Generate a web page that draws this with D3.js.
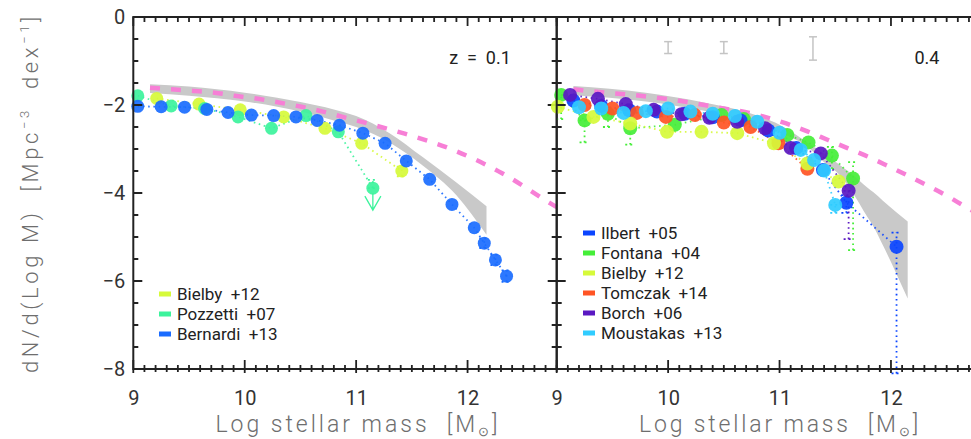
<!DOCTYPE html>
<html><head><meta charset="utf-8">
<script src="https://cdn.jsdelivr.net/npm/d3@7"></script>
<style>
body{margin:0;background:#fff;}
svg text{font-family:Roboto,"DejaVu Sans",sans-serif;}
</style></head><body>
<svg id="c" width="971" height="439"></svg>
<script>
// ---------- data ----------
const xTicks = [9,10,11,12];
const yTicks = [0,-2,-4,-6,-8];
const panelLabels = ["z  =  0.1", "0.4"];
const xTitle = "Log stellar mass";

// left panel (z = 0.1)
const bielbyLX = [9.21, 9.59, 9.96, 10.35, 10.72, 11.05, 11.41];
const bielbyLY = [-1.85, -1.98, -2.11, -2.27, -2.53, -2.87, -3.50];
const pozzettiX = [9.04, 9.34, 9.64, 9.94, 10.24, 10.55, 10.84, 11.15];
const pozzettiY = [-1.79, -2.02, -2.08, -2.27, -2.53, -2.24, -2.61, -3.89];
const bernardiX = [9.04, 9.25, 9.46, 9.66, 9.85, 10.06, 10.26, 10.46, 10.65, 10.85, 11.06, 11.26, 11.45, 11.66, 11.86, 12.06, 12.15, 12.25, 12.35];
const bernardiY = [-2.03, -2.04, -2.05, -2.10, -2.17, -2.23, -2.24, -2.27, -2.35, -2.46, -2.64, -2.87, -3.27, -3.69, -4.26, -4.79, -5.14, -5.52, -5.89];
const pinkLX = [9.15, 9.37, 9.54, 9.73, 9.91, 10.12, 10.32, 10.51, 10.70, 10.88, 11.06, 11.42, 11.87, 12.31, 12.74, 12.80];
const pinkLY = [-1.61, -1.65, -1.68, -1.72, -1.79, -1.86, -1.95, -2.04, -2.15, -2.27, -2.39, -2.64, -3.02, -3.55, -4.23, -4.32];
const bandLX = [9.15, 9.5, 10.0, 10.5, 10.8, 11.0, 11.3, 11.6, 11.9, 12.17];
const bandLHi = [-1.53, -1.58, -1.72, -1.93, -2.10, -2.25, -2.64, -3.19, -3.76, -4.30];
const bandLLo = [-1.73, -1.79, -1.92, -2.15, -2.35, -2.50, -2.85, -3.38, -4.05, -4.95];

// right panel (z = 0.4)
const ilbertX = [9.15, 9.4, 9.65, 9.9, 10.15, 10.4, 10.65, 10.9, 11.15, 11.39, 11.6, 12.05];
const ilbertY = [-1.90, -2.02, -2.12, -2.15, -2.20, -2.28, -2.35, -2.58, -2.98, -3.48, -4.22, -5.22];
const fontanaX = [9.04, 9.25, 9.46, 9.66, 10.06, 10.48, 10.68, 11.07, 11.26, 11.47, 11.66];
const fontanaY = [-1.77, -2.35, -2.20, -2.53, -2.45, -2.23, -2.32, -2.68, -2.85, -3.15, -3.67];
const bielbyRX = [9.01, 9.33, 9.66, 9.99, 10.30, 10.62, 10.95, 11.25, 11.53];
const bielbyRY = [-2.04, -2.27, -2.42, -2.61, -2.61, -2.64, -2.87, -3.33, -3.74];
const tomczakX = [9.25, 9.50, 9.72, 9.98, 10.24, 10.50, 10.74, 10.99, 11.25];
const tomczakY = [-2.00, -2.08, -2.18, -2.27, -2.23, -2.40, -2.50, -2.87, -3.45];
const borchX = [9.12, 9.37, 9.62, 9.87, 10.12, 10.37, 10.62, 10.87, 11.10, 11.37, 11.62];
const borchY = [-1.77, -1.86, -1.98, -2.11, -2.21, -2.29, -2.38, -2.53, -2.98, -3.10, -3.95];
const moustakasX = [9.2, 9.4, 9.6, 9.8, 10.0, 10.2, 10.4, 10.6, 10.8, 11.0, 11.19, 11.31, 11.40, 11.50];
const moustakasY = [-2.05, -2.08, -2.18, -2.14, -2.08, -2.15, -2.20, -2.25, -2.38, -2.63, -3.02, -3.25, -3.49, -4.27];
const pinkRX = [9.15, 9.21, 9.75, 10.14, 10.5, 10.71, 11.06, 11.25, 11.43, 11.61, 11.79, 11.96, 12.14, 12.32, 12.5, 12.68, 12.8];
const pinkRY = [-1.64, -1.66, -1.79, -1.92, -2.08, -2.17, -2.42, -2.60, -2.79, -2.98, -3.17, -3.37, -3.59, -3.82, -4.06, -4.33, -4.50];
const bandRX = [9.15, 9.8, 10.3, 10.75, 11.0, 11.25, 11.4, 11.55, 11.64, 11.79, 11.84, 11.93, 12.15];
const bandRHi = [-1.57, -1.72, -1.93, -2.20, -2.45, -2.85, -3.10, -3.38, -3.55, -3.88, -3.98, -4.18, -4.65];
const bandRLo = [-1.78, -1.92, -2.12, -2.37, -2.62, -2.95, -3.30, -3.62, -3.93, -4.55, -4.75, -5.20, -6.40];

// error bars [x, low, high]
const pozzettiErr = [[11.15, -3.89, -3.70]];
const bernardiErr = [[12.15, -5.25, -5.03], [12.25, -5.64, -5.40], [12.35, -6.02, -5.76]];
const bielbyLErr = [[11.41, -3.62, -3.40]];
const ilbertErr = [[12.05, -8.1, -4.90], [11.6, -4.45, -4.05]];
const fontanaErr = [[9.04, -2.32, -1.77], [9.25, -2.85, -2.35], [9.46, -2.50, -2.20], [9.66, -2.90, -2.53], [11.66, -5.30, -3.30], [11.47, -3.45, -2.95]];
const borchErr = [[11.62, -5.05, -3.95]];
const moustakasErr = [[11.50, -4.45, -4.27]];
const typicalErrX = [10.0, 10.5, 11.3];
const typicalErrLo = [-0.83, -0.83, -0.98];
const typicalErrHi = [-0.56, -0.56, -0.45];

// ---------- drawing ----------
const svg = d3.select("#c");
const yS = d3.scaleLinear().domain([-8, 0]).range([369, 17]);
const axisCol = "#222222";

const panels = [
  {
    x: d3.scaleLinear().domain([9, 12.8]).range([133.3, 556.7]),
    label: panelLabels[0], labelX: 480, r: 6.5,
    band: [bandLX, bandLHi, bandLLo], pink: [pinkLX, pinkLY],
    series: [
      {name: "Bielby  +12", X: bielbyLX, Y: bielbyLY, c: "#d6fa3a", err: bielbyLErr},
      {name: "Pozzetti  +07", X: pozzettiX, Y: pozzettiY, c: "#3cf39c", err: pozzettiErr, arrow: true},
      {name: "Bernardi  +13", X: bernardiX, Y: bernardiY, c: "#1a6cff", err: bernardiErr}
    ],
    legendOrder: [0, 1, 2], legX: 159, legY0: 294, showYLabels: true
  },
  {
    x: d3.scaleLinear().domain([9, 12.8]).range([556.7, 980.1]),
    label: panelLabels[1], labelX: 927, r: 7,
    band: [bandRX, bandRHi, bandRLo], pink: [pinkRX, pinkRY],
    series: [
      {name: "Fontana  +04", X: fontanaX, Y: fontanaY, c: "#45ee38", err: fontanaErr},
      {name: "Ilbert  +05", X: ilbertX, Y: ilbertY, c: "#0b45ff", err: ilbertErr},
      {name: "Tomczak  +14", X: tomczakX, Y: tomczakY, c: "#ff5424", err: []},
      {name: "Bielby  +12", X: bielbyRX, Y: bielbyRY, c: "#d6fa3a", err: []},
      {name: "Borch  +06", X: borchX, Y: borchY, c: "#5a18c2", err: borchErr},
      {name: "Moustakas  +13", X: moustakasX, Y: moustakasY, c: "#30ccff", err: moustakasErr}
    ],
    legendOrder: [1, 0, 3, 2, 4, 5], legX: 583, legY0: 233, showYLabels: false,
    typical: true
  }
];

panels.forEach(p => {
  const x = p.x;
  const g = svg.append("g");
  const band = p.band[0].map((v, i) => [v, p.band[1][i], p.band[2][i]]);
  g.append("path").datum(band)
    .attr("d", d3.area().x(d => x(d[0])).y0(d => yS(d[2])).y1(d => yS(d[1])).curve(d3.curveMonotoneX))
    .attr("fill", "#c9c9c9");
  const pd = p.pink[0].map((v, i) => [v, p.pink[1][i]]);
  g.append("path").datum(pd)
    .attr("d", d3.line().x(d => x(d[0])).y(d => yS(d[1])).curve(d3.curveMonotoneX))
    .attr("fill", "none").attr("stroke", "#f77fd6").attr("stroke-width", 4.5)
    .attr("stroke-dasharray", "10,11");
  if (p.typical) {
    const tg = g.append("g").attr("stroke", "#c4c4c4").attr("stroke-width", 1.5);
    typicalErrX.forEach((v, i) => {
      const gx = x(v), y1 = yS(typicalErrLo[i]), y2 = yS(typicalErrHi[i]);
      tg.append("line").attr("x1", gx).attr("x2", gx).attr("y1", y1).attr("y2", y2);
      tg.append("line").attr("x1", gx - 4).attr("x2", gx + 4).attr("y1", y1).attr("y2", y1);
      tg.append("line").attr("x1", gx - 4).attr("x2", gx + 4).attr("y1", y2).attr("y2", y2);
    });
  }
  p.series.forEach(s => {
    const d = s.X.map((v, i) => [v, s.Y[i]]);
    g.append("path").datum(d)
      .attr("d", d3.line().x(q => x(q[0])).y(q => yS(q[1])))
      .attr("fill", "none").attr("stroke", s.c).attr("stroke-width", 1.8)
      .attr("stroke-dasharray", "1.6,3.6").attr("opacity", 0.9);
    s.err.forEach(e => {
      const ex = x(e[0]);
      g.append("line").attr("x1", ex).attr("x2", ex).attr("y1", yS(e[1])).attr("y2", yS(e[2]))
        .attr("stroke", s.c).attr("stroke-width", 1.8).attr("stroke-dasharray", "1.6,3.6");
      [e[1], e[2]].forEach(v => {
        g.append("line").attr("x1", ex - 5).attr("x2", ex + 5).attr("y1", yS(v)).attr("y2", yS(v))
          .attr("stroke", s.c).attr("stroke-width", 1.8).attr("stroke-dasharray", "2,3");
      });
    });
  });
  p.series.forEach(s => {
    g.append("g").selectAll("circle").data(s.X.map((v, i) => [v, s.Y[i]])).join("circle")
      .attr("cx", d => x(d[0])).attr("cy", d => yS(d[1])).attr("r", p.r)
      .attr("fill", s.c).attr("fill-opacity", 0.92);
    if (s.arrow) {
      const last = s.X.length - 1;
      const ax = x(s.X[last]), ay = yS(s.Y[last]);
      const tip = yS(s.Y[last] - 0.5);
      g.append("path")
        .attr("d", `M${ax},${ay + 5}L${ax},${tip}M${ax - 8},${ay + 8}L${ax},${tip}L${ax + 8},${ay + 8}`)
        .attr("fill", "none").attr("stroke", s.c).attr("stroke-width", 1.3);
    }
  });

  const [x0, x1] = x.range();
  const yTop = yS(0), yBot = yS(-8);
  g.append("rect").attr("x", x0).attr("y", yTop).attr("width", x1 - x0).attr("height", yBot - yTop)
    .attr("fill", "none").attr("stroke", axisCol).attr("stroke-width", 2);

  const minorX = d3.range(0, 39).map(i => +(9 + i * 0.1).toFixed(1));
  const minorY = d3.range(0, 17).map(i => -8 + i * 0.5);
  const isMajX = v => Math.abs(v - Math.round(v)) < 1e-6;
  const isMajY = v => Math.abs(v / 2 - Math.round(v / 2)) < 1e-6;
  let dstr = "";
  minorX.forEach(v => {
    const px = x(v), M = isMajX(v);
    dstr += `M${px},${yBot + (M ? 4 : 3)}V${yBot - (M ? 9 : 4)}`;
    dstr += `M${px},${yTop}V${yTop + (M ? 9 : 5)}`;
  });
  minorY.forEach(v => {
    const py = yS(v), M = isMajY(v);
    dstr += `M${x0},${py}H${x0 + (M ? 9 : 5)}`;
    dstr += `M${x1},${py}H${x1 - (M ? 9 : 5)}`;
  });
  g.append("path").attr("d", dstr).attr("fill", "none").attr("stroke", axisCol).attr("stroke-width", 1.8);

  const bl = g.append("g").attr("transform", `translate(0,${yBot})`)
    .call(d3.axisBottom(x).tickValues(xTicks).tickSize(0).tickPadding(22).tickFormat(d3.format("d")));
  bl.select(".domain").remove();
  bl.selectAll("text").attr("font-size", 20).attr("fill", "#333").attr("font-weight", 400).attr("font-family", "Roboto, sans-serif");
  if (p.showYLabels) {
    const ll = g.append("g").attr("transform", `translate(${x0},0)`)
      .call(d3.axisLeft(yS).tickValues(yTicks).tickSize(0).tickPadding(8)
        .tickFormat(d => d === 0 ? "0" : "\u2212" + Math.abs(d)));
    ll.select(".domain").remove();
    ll.selectAll("text").attr("font-size", 20).attr("fill", "#333").attr("font-weight", 400).attr("font-family", "Roboto, sans-serif");
  }

  g.append("text").attr("x", p.labelX).attr("y", 63.5).attr("text-anchor", "middle")
    .attr("font-size", 18).attr("fill", "#222").style("white-space", "pre").text(p.label);

  p.legendOrder.forEach((si, k) => {
    const s = p.series[si];
    const cy = p.legY0 + k * 20;
    g.append("rect").attr("x", p.legX).attr("y", cy - 2.5).attr("width", 12).attr("height", 5).attr("fill", s.c);
    g.append("text").attr("x", p.legX + 18).attr("y", cy + 6).attr("font-size", 17).attr("fill", "#222")
      .style("white-space", "pre").text(s.name);
  });
});

function fitText(t, target) {
  const n = t.text().length;
  const len = t.node().getComputedTextLength();
  t.attr("letter-spacing", ((target - len) / n).toFixed(2));
}
[[358, 285], [780, 282]].forEach(([cx, len]) => {
  const t = svg.append("text").attr("x", cx).attr("y", 432).attr("text-anchor", "middle")
    .attr("font-size", 23).attr("fill", "#6e6e6e").attr("font-weight", 300).style("white-space", "pre");
  t.append("tspan").text(xTitle + "  [M");
  t.append("tspan").attr("font-size", 13).attr("dy", 4).text("\u2299");
  t.append("tspan").attr("dy", -4).text("]");
  fitText(t, len);
});
{
  const t = svg.append("text").attr("transform", "translate(38,193) rotate(-90)").attr("text-anchor", "middle")
    .attr("font-size", 22).attr("fill", "#6e6e6e").attr("font-weight", 300).style("white-space", "pre");
  t.append("tspan").text("dN/d(Log M)  [Mpc");
  t.append("tspan").attr("font-size", 13).attr("dy", -9).text("\u22123");
  t.append("tspan").attr("dy", 9).text("  dex");
  t.append("tspan").attr("font-size", 13).attr("dy", -9).text("\u22121");
  t.append("tspan").attr("dy", 9).text("]");
  fitText(t, 360);
}
</script>
</body></html>
